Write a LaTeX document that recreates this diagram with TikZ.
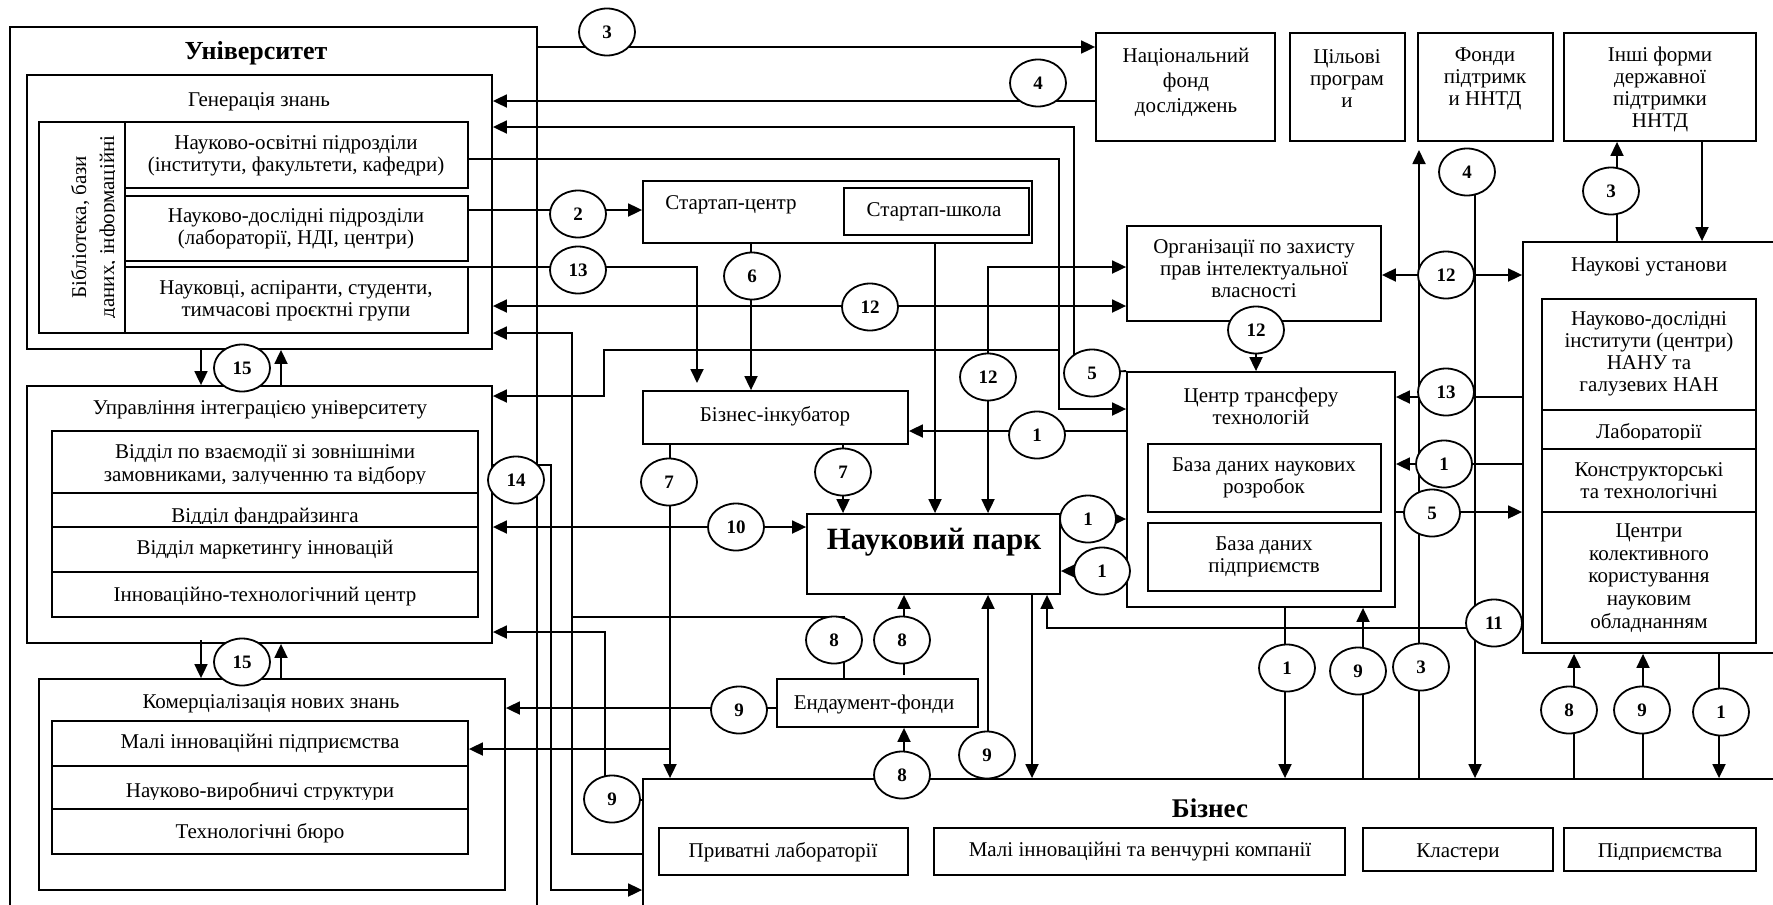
\documentclass[tikz,border=0pt]{standalone}
\usepackage{fontspec}
\setmainfont{Liberation Serif}
\usetikzlibrary{arrows.meta,shapes.geometric,fit}
\pgfdeclarelayer{bg}
\pgfsetlayers{bg,main}

\tikzset{
  box/.style={draw, line width=0.9pt, inner sep=0pt},
  txt/.style={inner sep=0pt, align=center, font=\fontsize{10.5}{11}\selectfont},
  num/.style={draw, ellipse, fill=white, line width=0.9pt, minimum width=28pt,
    minimum height=23.5pt, inner sep=0pt, font=\bfseries\fontsize{9.5}{10}\selectfont},
  conn/.style={line width=0.9pt},
  arr/.style={conn, -{Triangle[length=7pt,width=6.5pt]}},
  darr/.style={conn, {Triangle[length=7pt,width=6.5pt]}-{Triangle[length=7pt,width=6.5pt]}},
}
% box with given corners (pixel units)
\newcommand\bx[3]{\node[box, fit={#2 #3}] (#1) {};}

\begin{document}
\begin{tikzpicture}[x=0.5pt,y=-0.5pt]
\clip (0,0) rectangle (1773,905);

% ---------------- University ----------------
\bx{univ}{(10,27)}{(537,940)}
\node[txt, font=\bfseries\fontsize{13}{14}\selectfont] (tUniv) at (256,53) {Університет};

\bx{gen}{(27,75)}{(492,349)}
\node[txt] (tGen) at (259,102) {Генерація знань};
\bx{lib}{(38.6,122)}{(125,333)}
\bx{r1}{(125,122)}{(468,188)}
\bx{r2}{(125,196)}{(468,261)}
\bx{r3}{(125,267)}{(468,333)}
\begin{scope}
  \clip (38,122) rectangle (114.5,333);
  \node[txt, rotate=90, anchor=base] (libA) at (86,227) {Бібліотека, бази};
  \node[txt, rotate=90, anchor=base] (libB) at (114,227) {даних, інформаційні};
\end{scope}
\node[txt] (t1) at (296,156) {Науково-освітні підрозділи\\(інститути, факультети, кафедри)};
\node[txt] (t2) at (296,229) {Науково-дослідні підрозділи\\(лабораторії, НДІ, центри)};
\node[txt] (t3) at (296,301) {Науковці, аспіранти, студенти,\\тимчасові проєктні групи};

\bx{upr}{(27,386)}{(492,643)}
\node[txt] (tUpr) at (260,410) {Управління інтеграцією університету};
\bx{ur1}{(52,431)}{(478,493)}
\bx{ur2}{(52,493)}{(478,527)}
\bx{ur3}{(52,527)}{(478,572)}
\bx{ur4}{(52,572)}{(478,617)}
\node[txt, anchor=base] (tU1a) at (265,458) {Відділ по взаємодії зі зовнішніми};
\begin{scope}
  \clip (52,431) rectangle (478,483);
  \node[txt, anchor=base] (tU1b) at (265,481) {замовниками, залученню та відбору};
\end{scope}
\begin{scope}
  \clip (52,493) rectangle (478,523);
  \node[txt, anchor=base] (tU2) at (265,522) {Відділ фандрайзинга};
\end{scope}
\node[txt] (tU3) at (265,550) {Відділ маркетингу інновацій};
\node[txt] (tU4) at (265,597) {Інноваційно-технологічний центр};

\bx{kom}{(39,679)}{(505,890)}
\node[txt] (tKom) at (271,704) {Комерціалізація нових знань};
\bx{kr1}{(52,721)}{(468,766)}
\bx{kr2}{(52,766)}{(468,809)}
\bx{kr3}{(52,809)}{(468,854)}
\node[txt] (tK1) at (260,744) {Малі інноваційні підприємства};
\begin{scope}
  \clip (52,766) rectangle (468,799);
  \node[txt, anchor=base] (tK2) at (260,797) {Науково-виробничі структури};
\end{scope}
\node[txt] (tK3) at (260,833) {Технологічні бюро};

% ---------------- Centre column ----------------
\bx{startup}{(643,181)}{(1032,243)}
\node[txt] (tSt) at (731,205) {Стартап-центр};
\bx{school}{(844,188)}{(1029,235)}
\node[txt] (tSch) at (934,212) {Стартап-школа};

\bx{incub}{(643,391)}{(908,444)}
\node[txt] (tInc) at (775,416) {Бізнес-інкубатор};

\bx{park}{(807,514)}{(1060,594)}
\node[txt, font=\bfseries\fontsize{15.5}{17}\selectfont] (tPark) at (934,542) {Науковий парк};

\bx{endow}{(777,679)}{(978,727)}
\node[txt] (tEnd) at (874,704) {Ендаумент-фонди};

% ---------------- Top row of funds ----------------
\bx{natfund}{(1096,33)}{(1275,141)}
\node[txt, font=\fontsize{10.5}{12.5}\selectfont] (tNat) at (1186,82) {Національний\\фонд\\досліджень};
\bx{target}{(1290,33)}{(1405,141)}
\node[txt] (tTarg) at (1347,79) {Цільові\\програм\\и};
\bx{funds}{(1418,33)}{(1553,141)}
\node[txt] (tFund) at (1485,79) {Фонди\\підтримк\\и ННТД};
\bx{other}{(1564,33)}{(1756,141)}
\node[txt] (tOth) at (1660,89) {Інші форми\\державної\\підтримки\\ННТД};

% ---------------- Right part ----------------
\bx{ip}{(1127,226)}{(1381,321)}
\node[txt] (tIP) at (1254,269) {Організації по захисту\\прав інтелектуальної\\власності};

\bx{ctt}{(1127,372)}{(1395,607)}
\node[txt] (tCtt) at (1261,406) {Центр трансферу\\технологій};
\bx{db1}{(1148,444)}{(1381,512)}
\node[txt] (tDb1) at (1264,478) {База даних наукових\\розробок};
\bx{db2}{(1148,523)}{(1381,591)}
\node[txt] (tDb2) at (1264,557) {База даних\\підприємств};

\bx{sci}{(1523,242)}{(1800,653)}
\node[txt] (tSci) at (1649,267) {Наукові установи};
\bx{s1}{(1542,299)}{(1756,410)}
\bx{s2}{(1542,410)}{(1756,449)}
\bx{s3}{(1542,449)}{(1756,512)}
\bx{s4}{(1542,512)}{(1756,643)}
\node[txt] (tS1) at (1649,354) {Науково-дослідні\\інститути (центри)\\НАНУ та\\галузевих НАН};
\begin{scope}
  \clip (1542,410) rectangle (1756,439);
  \node[txt, anchor=base] (tS2) at (1649,438) {Лабораторії};
\end{scope}
\node[txt] (tS3a) at (1649,472) {Конструкторські};
\begin{scope}
  \clip (1542,449) rectangle (1756,500);
  \node[txt, anchor=base] (tS3b) at (1649,498) {та технологічні};
\end{scope}
\node[txt, font=\fontsize{10.5}{11.3}\selectfont] (tS4) at (1649,578) {Центри\\колективного\\користування\\науковим\\обладнанням};

% ---------------- Business ----------------
\bx{biz}{(643,779)}{(1800,940)}
\node[txt, font=\bfseries\fontsize{13.5}{15}\selectfont] (tBiz) at (1210,808) {Бізнес};
\bx{privlab}{(659,828)}{(908,875)}
\node[txt] (tPriv) at (783,852) {Приватні лабораторії};
\bx{small}{(934,828)}{(1345,875)}
\node[txt] (tSmall) at (1140,852) {Малі інноваційні та венчурні компанії};
\bx{clus}{(1363,828)}{(1553,871)}
\begin{scope}
  \clip (1363,828) rectangle (1553,859);
  \node[txt, anchor=base] (tClus) at (1458,857) {Кластери};
\end{scope}
\bx{ent}{(1564,828)}{(1756,871)}
\begin{scope}
  \clip (1564,828) rectangle (1756,859);
  \node[txt, anchor=base] (tEnt) at (1660,857) {Підприємства};
\end{scope}

% ---------------- Numbered link labels ----------------
\node[num] (e3a) at (607,32) {3};
\node[num] (e4a) at (1038,83) {4};
\node[num] (e2) at (578,214) {2};
\node[num] (e13a) at (578,270) {13};
\node[num] (e6) at (752,276) {6};
\node[num] (e12a) at (870,307) {12};
\node[num] (e15a) at (242,368) {15};
\node[num] (e12b) at (988,377) {12};
\node[num] (e5a) at (1092,373) {5};
\node[num] (e1a) at (1037,435) {1};
\node[num] (e7a) at (669,482) {7};
\node[num] (e7b) at (843,472) {7};
\node[num] (e14) at (516,480) {14};
\node[num] (e10) at (736,527) {10};
\node[num] (e1b) at (1088,519) {1};
\node[num] (e1c) at (1102,571) {1};
\node[num] (e8a) at (834,640) {8};
\node[num] (e8b) at (902,640) {8};
\node[num] (e15b) at (242,662) {15};
\node[num] (e9a) at (739,710) {9};
\node[num] (e9b) at (987,755) {9};
\node[num] (e8c) at (902,775) {8};
\node[num] (e9c) at (612,799) {9};
\node[num] (e4b) at (1467,172) {4};
\node[num] (e3b) at (1611,191) {3};
\node[num] (e12c) at (1446,275) {12};
\node[num] (e12d) at (1256,330) {12};
\node[num] (e13b) at (1446,392) {13};
\node[num] (e1d) at (1444,464) {1};
\node[num] (e5b) at (1432,513) {5};
\node[num] (e11) at (1494,623) {11};
\node[num] (e1e) at (1287,668) {1};
\node[num] (e9d) at (1358,671) {9};
\node[num] (e3c) at (1421,667) {3};
\node[num] (e8d) at (1569,710) {8};
\node[num] (e9e) at (1642,710) {9};
\node[num] (e1f) at (1721,712) {1};

% ---------------- Connectors (under the labels) ----------------
\begin{pgfonlayer}{bg}
\fill[white] (0,0) rectangle (1773,905);
% university <-> national fund
\draw[arr] (univ.east |- 0,47) -- (natfund.west |- 0,47);
\draw[arr] (natfund.west |- 0,101) -- (gen.east |- 0,101);
% technology transfer centre -> knowledge generation
\draw[arr] (ctt.north west) -- (1074,372) -- (1074,127) -- (gen.east |- 0,127);
\draw[arr] (r1.east |- 0,159) -- (1059,159) -- (1059,409) -- (ctt.west |- 0,409);
\draw[arr] (1059,350) -- (604,350) -- (604,396) -- (upr.east |- 0,396);
% start-up centre and incubator
\draw[arr] (r2.east |- 0,210) -- (startup.west |- 0,210);
\draw[arr] (r3.east |- 0,267) -- (697,267) -- (697,383);
\draw[arr] (startup.south -| 751,0) -- (incub.north -| 751,0);
\draw[arr] (startup.south -| 935,0) -- (park.north -| 935,0);
% intellectual property
\draw[darr] (gen.east |- 0,306) -- (ip.west |- 0,306);
\draw[darr] (ip.west |- 0,267) -- (988,267) -- (park.north -| 988,0);
\draw[arr] (ip.south -| 1256,0) -- (ctt.north -| 1256,0);
\draw[darr] (ip.east |- 0,275) -- (sci.west |- 0,275);
% incubator
\draw[arr] (ctt.west |- 0,431) -- (incub.east |- 0,431);
\draw[arr] (incub.south -| 670,0) -- (biz.north -| 670,0);
\draw[arr] (670,749) -- (kr1.east |- 0,749);
\draw[arr] (incub.south -| 843,0) -- (park.north -| 843,0);
% science park
\draw[darr] (upr.east |- 0,527) -- (park.west |- 0,527);
\draw[arr] (park.east |- 0,519) -- (ctt.west |- 0,519);
\draw[arr] (ctt.west |- 0,571) -- (park.east |- 0,571);
\draw[arr] (park.south -| 1032,0) -- (biz.north -| 1032,0);
\draw[arr] (biz.north -| 988,0) -- (park.south -| 988,0);
\draw[arr] (sci.west |- 0,628) -- (1047,628) -- (park.south -| 1047,0);
% university management <-> business
\draw[arr] (upr.east |- 0,465) -- (551,465) -- (551,890) -- (biz.west |- 0,890);
\draw[arr] (biz.west |- 0,854) -- (572,854) -- (572,333) -- (gen.east |- 0,333);
\draw[arr] (biz.west |- 0,800) -- (605,800) -- (605,632) -- (upr.east |- 0,632);
% endowment funds
\draw[conn] (endow.north -| 844,0) -- (844,617) -- (572,617);
\draw[arr] (endow.west |- 0,708) -- (kom.east |- 0,708);
\draw[arr] (904,675) -- (park.south -| 904,0);
\draw[arr] (biz.north -| 904,0) -- (endow.south -| 904,0);
% scientific institutions <-> transfer centre
\draw[arr] (sci.west |- 0,397) -- (ctt.east |- 0,397);
\draw[arr] (sci.west |- 0,464) -- (ctt.east |- 0,464);
\draw[arr] (ctt.east |- 0,512) -- (sci.west |- 0,512);
% vertical links to business
\draw[arr] (biz.north -| 1419,0) -- (1419,150);
\draw[arr] (e4b.center -| 1475,0) -- (biz.north -| 1475,0);
\draw[arr] (ctt.south -| 1285,0) -- (biz.north -| 1285,0);
\draw[arr] (biz.north -| 1363,0) -- (ctt.south -| 1363,0);
\draw[arr] (biz.north -| 1574,0) -- (sci.south -| 1574,0);
\draw[arr] (biz.north -| 1643,0) -- (sci.south -| 1643,0);
\draw[arr] (sci.south -| 1719,0) -- (biz.north -| 1719,0);
% state support
\draw[arr] (sci.north -| 1617,0) -- (other.south -| 1617,0);
\draw[arr] (other.south -| 1702,0) -- (sci.north -| 1702,0);
% inside the university
\draw[arr] (gen.south -| 201,0) -- (upr.north -| 201,0);
\draw[arr] (upr.north -| 281,0) -- (gen.south -| 281,0);
\draw[arr] (201,640) -- (kom.north -| 201,0);
\draw[arr] (kom.north -| 281,0) -- (upr.south -| 281,0);
\end{pgfonlayer}
\end{tikzpicture}
\end{document}
